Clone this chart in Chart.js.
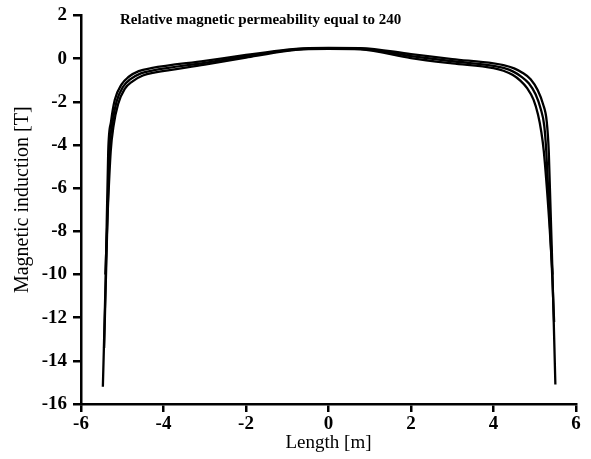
<!DOCTYPE html>
<html>
<head>
<meta charset="utf-8">
<script src="https://cdn.jsdelivr.net/npm/chart.js@4.4.1/dist/chart.umd.min.js"></script>
<style>
  html, body { margin: 0; padding: 0; background: #fff; }
  #wrap { width: 591px; height: 459px; }
</style>
</head>
<body>
<div id="wrap"><canvas id="chart"></canvas></div>
<script>
// values
const X_TICKS = [-6, -4, -2, 0, 2, 4, 6];
const Y_TICKS = [2, 0, -2, -4, -6, -8, -10, -12, -14, -16];

const curveA_x = [-5.47, -5.40, -5.34, -5.27, -5.18, -5.02, -4.85, -4.60, -4.30, -3.0, -2.0, -1.0, -0.6, 0, 0.77, 2.0, 3.0, 4.0, 4.24, 4.50, 4.70, 4.90, 5.07, 5.20, 5.29, 5.34, 5.43, 5.50];
const curveA_y = [-15.2, -10.0, -4.3, -2.9, -1.9, -1.2, -0.85, -0.58, -0.44, -0.10, 0.17, 0.42, 0.48, 0.50, 0.49, 0.21, -0.02, -0.22, -0.30, -0.45, -0.65, -0.95, -1.45, -2.1, -2.9, -4.3, -10.0, -15.1];

const curveB_x = [-5.44, -5.38, -5.31, -5.24, -5.14, -4.98, -4.80, -4.55, -4.25, -3.0, -2.0, -1.0, -0.6, 0, 0.77, 2.0, 3.0, 4.0, 4.24, 4.48, 4.68, 4.86, 5.02, 5.14, 5.23, 5.28, 5.40, 5.47];
const curveB_y = [-13.4, -9.0, -4.3, -3.0, -2.0, -1.3, -0.95, -0.68, -0.54, -0.19, 0.11, 0.39, 0.46, 0.48, 0.46, 0.12, -0.12, -0.33, -0.43, -0.60, -0.84, -1.15, -1.65, -2.3, -3.1, -4.3, -9.0, -12.2];

const curveC_x = [-5.41, -5.35, -5.28, -5.21, -5.10, -4.94, -4.75, -4.50, -4.20, -3.0, -2.0, -1.0, -0.6, 0, 0.77, 2.0, 3.0, 4.0, 4.24, 4.46, 4.65, 4.82, 4.97, 5.08, 5.16, 5.22, 5.35, 5.43];
const curveC_y = [-10.0, -7.0, -4.3, -3.1, -2.1, -1.4, -1.05, -0.78, -0.64, -0.28, 0.05, 0.36, 0.43, 0.45, 0.43, 0.03, -0.22, -0.44, -0.56, -0.75, -1.02, -1.38, -1.9, -2.6, -3.4, -4.3, -7.5, -10.0];

const TITLE = 'Relative magnetic permeability equal to 240';
const X_TITLE = 'Length [m]';
const Y_TITLE = 'Magnetic induction [T]';

const SERIF = "'Liberation Serif', 'DejaVu Serif', serif";

function pts(xs, ys) {
  return xs.map((x, i) => ({ x, y: ys[i] }));
}

function lineSet(xs, ys) {
  return {
    data: pts(xs, ys),
    borderColor: '#000',
    borderWidth: 2.3,
    pointRadius: 0,
    fill: false,
    cubicInterpolationMode: 'monotone',
  };
}

// title inside the plot area, and the y-axis title placed as in the reference
const textPlugin = {
  id: 'texts',
  afterDraw(chart) {
    const { ctx, chartArea } = chart;
    ctx.save();
    ctx.fillStyle = '#000';
    ctx.font = 'bold 15px ' + SERIF;
    ctx.textAlign = 'left';
    ctx.textBaseline = 'middle';
    ctx.fillText(TITLE, chartArea.left + 39, chartArea.top + 5);

    ctx.font = '20px ' + SERIF;
    ctx.textAlign = 'center';
    ctx.translate(23, (chartArea.top + chartArea.bottom) / 2 - 10);
    ctx.rotate(-Math.PI / 2);
    ctx.fillText(Y_TITLE, 0, 0);
    ctx.restore();
  }
};

new Chart(document.getElementById('chart'), {
  type: 'line',
  data: {
    datasets: [
      lineSet(curveA_x, curveA_y),
      lineSet(curveB_x, curveB_y),
      lineSet(curveC_x, curveC_y),
    ]
  },
  options: {
    responsive: true,
    maintainAspectRatio: false,
    animation: false,
    layout: { padding: { top: 9, right: 15, bottom: 5, left: 0 } },
    plugins: {
      legend: { display: false },
      tooltip: { enabled: false },
    },
    scales: {
      x: {
        type: 'linear',
        min: -6, max: 6,
        afterBuildTicks: s => { s.ticks = X_TICKS.map(v => ({ value: v })); },
        afterFit: s => { s.height = 50; },
        border: { display: true, color: '#000', width: 2.5 },
        grid: { drawOnChartArea: false, drawTicks: true, tickLength: 8, color: '#000', lineWidth: 2.5 },
        ticks: {
          color: '#000', padding: 1,
          font: { family: SERIF, size: 19, weight: 'bold' },
          maxRotation: 0,
        },
        title: {
          display: true, text: X_TITLE, color: '#000', padding: { top: 0, bottom: 0 },
          font: { family: SERIF, size: 19 },
        },
      },
      y: {
        type: 'linear',
        min: -16, max: 2,
        afterBuildTicks: s => { s.ticks = Y_TICKS.map(v => ({ value: v })); },
        afterFit: s => { s.width = 81; },
        border: { display: true, color: '#000', width: 2.5 },
        grid: { drawOnChartArea: false, drawTicks: true, tickLength: 8, color: '#000', lineWidth: 2.5 },
        ticks: {
          color: '#000', padding: 6,
          font: { family: SERIF, size: 19, weight: 'bold', lineHeight: 1 },
        },
      },
    },
  },
  plugins: [textPlugin],
});
</script>
</body>
</html>
